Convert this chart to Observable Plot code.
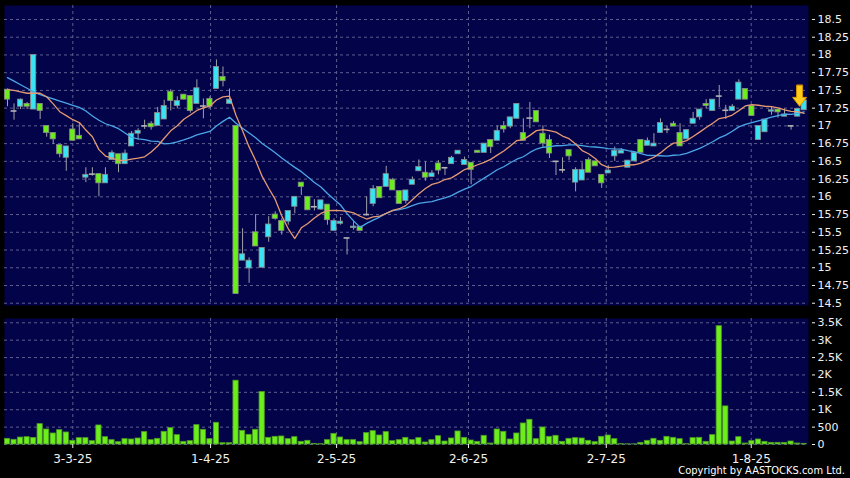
<!DOCTYPE html>
<html><head><meta charset="utf-8">
<script src="https://cdn.jsdelivr.net/npm/d3@7"></script>
<script src="https://cdn.jsdelivr.net/npm/@observablehq/plot@0.6"></script>
<style>
html,body{margin:0;padding:0;background:#000;}
#wrap{position:relative;width:850px;height:478px;background:#000;overflow:hidden;font-family:"DejaVu Sans",sans-serif;}
#price{position:absolute;left:0;top:0;}
#vol{position:absolute;left:0;top:310px;}
#copy{position:absolute;right:5px;top:464px;color:#fff;font-size:11px;font-family:"DejaVu Sans Condensed","DejaVu Sans",sans-serif;font-stretch:condensed;line-height:13px;white-space:nowrap;}
</style></head>
<body><div id="wrap"><div id="price"></div><div id="vol"></div><div id="copy">Copyright by AASTOCKS.com Ltd.</div></div>
<script>
// Daily candles (index = trading day, Feb 17 2025 ... Aug 13 2025)
const opens = [17.51,17.21,17.27,17.31,17.23,17.31,17.0,16.90,16.73,16.55,
16.95,16.86,16.27,16.32,16.32,16.19,16.52,16.60,16.46,16.71,
16.89,17.0,17.03,17.0,17.09,17.48,17.28,17.44,17.42,17.31,
17.28,17.38,17.52,17.69,17.31,17.0,15.10,14.99,15.50,15.0,
15.43,15.75,15.66,15.65,15.86,16.20,16.0,15.86,15.82,15.89,
15.52,15.62,15.42,15.56,15.58,15.75,15.90,16.14,16.14,16.24,
16.08,15.94,16.17,16.36,16.34,16.28,16.47,16.41,16.46,16.60,
16.45,16.48,16.65,16.62,16.80,16.79,17.0,16.99,17.10,16.90,
17.11,17.21,16.89,16.80,16.50,16.38,16.66,16.20,16.23,16.52,
16.50,16.31,16.33,16.57,16.61,16.41,16.50,16.80,16.72,16.71,
16.90,16.95,17.03,16.90,16.81,17.03,17.12,17.31,17.21,17.42,
17.22,17.21,17.37,17.52,17.28,16.80,16.91,17.20,17.23,17.13,
17.0,17.13,17.22];
const closes = [17.37,17.21,17.37,17.27,18.0,17.21,16.90,16.81,16.60,16.71,
16.79,16.81,16.31,16.32,16.19,16.31,16.62,16.46,16.61,16.89,
16.93,17.0,16.98,17.18,17.28,17.35,17.35,17.37,17.21,17.53,
17.28,17.27,17.83,17.63,17.37,14.63,15.19,15.10,15.30,15.28,
15.61,15.69,15.52,15.80,16.0,16.14,15.81,15.86,15.95,15.67,
15.66,15.65,15.42,15.58,15.52,15.75,16.11,15.98,16.32,16.09,
15.90,16.09,16.24,16.42,16.27,16.33,16.37,16.41,16.55,16.65,
16.52,16.38,16.62,16.75,16.70,16.93,16.95,17.12,17.31,16.79,
17.11,17.05,16.75,16.61,16.50,16.38,16.57,16.38,16.38,16.34,
16.43,16.19,16.37,16.65,16.65,16.51,16.62,16.62,16.79,16.75,
17.04,16.95,16.99,16.71,16.94,17.10,17.23,17.28,17.37,17.42,
17.22,17.27,17.61,17.37,17.14,17.0,17.09,17.22,17.19,17.16,
17.0,17.24,17.36];
const highs = [17.52,17.31,17.38,17.33,18.0,17.31,17.0,16.90,16.73,16.71,
17.03,17.03,16.41,16.41,16.32,16.41,16.65,16.60,16.66,16.92,
16.96,17.08,17.06,17.26,17.36,17.51,17.41,17.44,17.42,17.65,
17.38,17.41,17.93,17.83,17.52,17.0,15.55,15.14,15.75,15.28,
15.72,15.79,15.69,15.80,16.0,16.20,16.0,15.96,15.95,15.89,
15.69,15.71,15.42,15.65,15.58,16.0,16.16,16.14,16.43,16.26,
16.08,16.09,16.28,16.52,16.49,16.37,16.51,16.41,16.57,16.65,
16.56,16.48,16.65,16.75,16.80,17.0,17.06,17.12,17.31,17.10,
17.33,17.21,17.0,16.87,16.50,16.55,16.66,16.41,16.48,16.55,
16.50,16.31,16.44,16.70,16.68,16.51,16.62,16.80,16.83,16.89,
17.10,17.0,17.06,17.03,16.94,17.19,17.23,17.37,17.37,17.57,
17.29,17.30,17.65,17.52,17.28,17.0,17.09,17.26,17.23,17.24,
17.0,17.24,17.36];
const lows = [17.27,17.08,17.23,17.23,17.23,17.09,16.84,16.74,16.55,16.36,
16.78,16.81,16.20,16.29,16.0,16.19,16.52,16.34,16.46,16.71,
16.80,16.95,16.94,17.0,17.09,17.21,17.24,17.37,17.18,17.31,
17.10,17.24,17.52,17.55,17.31,14.63,15.10,14.78,15.30,15.0,
15.36,15.67,15.46,15.60,15.76,16.02,15.81,15.80,15.81,15.60,
15.52,15.60,15.18,15.53,15.52,15.73,15.86,15.98,16.14,16.09,
15.90,15.90,16.17,16.36,16.22,16.28,16.31,16.30,16.46,16.60,
16.45,16.17,16.62,16.62,16.61,16.79,16.90,16.96,17.10,16.79,
16.96,17.05,16.70,16.54,16.30,16.33,16.51,16.07,16.23,16.34,
16.43,16.12,16.33,16.50,16.61,16.41,16.50,16.62,16.72,16.71,
16.90,16.89,16.99,16.71,16.81,17.03,17.08,17.24,17.21,17.26,
17.09,17.21,17.37,17.37,17.14,16.80,16.91,17.15,17.11,17.13,
16.94,17.13,17.22];
const volumes = [163,135,200,210,190,586,432,317,413,346,
106,183,183,96,548,211,125,67,154,144,
173,356,125,163,365,471,269,77,96,557,
423,154,625,38,38,1835,394,279,423,1509,
192,221,231,154,211,77,106,19,10,125,
307,202,125,125,67,327,384,259,356,96,
125,192,125,183,58,125,240,86,173,375,
192,115,77,250,29,432,365,144,317,605,
711,154,490,221,250,77,163,183,173,106,
67,221,259,154,10,5,5,48,106,163,
106,221,192,154,10,183,192,77,269,3402,
1096,86,211,29,96,144,77,48,48,48,
86,29,19];
const ma10Lead = [17.51,17.50,17.48,17.46,17.46,17.46,17.41,17.31,17.20];
const ma20Lead = [17.68,17.63,17.58,17.53,17.48,17.44,17.41,17.38,17.35,17.32,
17.29,17.26,17.21,17.14,17.08,17.03,17.0,16.96,16.90];
// Axis ticks
const priceTicks = d3.range(14.5, 18.51, 0.25).map(v => +v.toFixed(2));
const volTicks = [0,500,1000,1500,2000,2500,3000,3500];
const dateLabels = ["3-3-25","1-4-25","2-5-25","2-6-25","2-7-25","1-8-25"];
const dateTickPos = [10, 31.1, 50.4, 70.6, 91.7, 113.9];
const arrowIndex = 121;

const idx = d3.range(closes.length);
function sma(k, lead) {
  return idx.map(i => i < k - 1 ? lead[i] : d3.mean(closes.slice(i - k + 1, i + 1)));
}
const ma10 = sma(10, ma10Lead);
const ma20 = sma(20, ma20Lead);

const NAVY = "#03034a", GRID = "#5e5e90", CYAN = "#38e4f4", GREEN = "#6ced1c";
const xDomain = [-0.46, 122.67];
const common = {width: 850, marginLeft: 4, marginRight: 42,
  style: {background: "transparent", color: "#f0f0f0", fontFamily: "DejaVu Sans, sans-serif", fontSize: "11px"}};

const isDoji = i => opens[i] === closes[i];
const tip = highs[arrowIndex] + 0.035;
const arrowShape = {draw(ctx, l) {
  ctx.moveTo(-3, 0); ctx.lineTo(-3, -l + 9); ctx.lineTo(-7, -l + 9); ctx.lineTo(0, -l);
  ctx.lineTo(7, -l + 9); ctx.lineTo(3, -l + 9); ctx.lineTo(3, 0); ctx.closePath();
}};

const price = Plot.plot({
  ...common, height: 310, marginTop: 5, marginBottom: 5,
  x: {domain: xDomain, axis: null},
  y: {domain: [14.468, 18.697]},
  marks: [
    Plot.frame({fill: NAVY, stroke: null}),
    Plot.gridY(priceTicks, {stroke: GRID, strokeOpacity: 1, strokeDasharray: "3,3"}),
    Plot.gridX(dateTickPos, {stroke: GRID, strokeOpacity: 1, strokeDasharray: "3,3"}),
    Plot.ruleX(idx, {x: i => i, y1: i => lows[i], y2: i => highs[i], stroke: "#a0a0a8", strokeWidth: 1}),
    Plot.rect(idx.filter(i => !isDoji(i)), {x1: i => i - 0.4, x2: i => i + 0.4,
      y1: i => opens[i], y2: i => closes[i],
      fill: i => closes[i] > opens[i] ? CYAN : GREEN, stroke: "#8a8a8a", strokeWidth: 0.8}),
    Plot.ruleY(idx.filter(isDoji), {x1: i => i - 0.45, x2: i => i + 0.45, y: i => closes[i], stroke: "#b4b4b4", strokeWidth: 1.6}),
    Plot.line(idx, {x: i => i, y: i => ma20[i], stroke: "#4aa6e6", strokeWidth: 1.3}),
    Plot.line(idx, {x: i => i, y: i => ma10[i], stroke: "#e49a72", strokeWidth: 1.3}),
    Plot.vector([arrowIndex], {x: i => i, y: () => tip, dx: 2, length: 21, rotate: 180, anchor: "end",
      shape: arrowShape, fill: "#ffcc1a", stroke: "#d89400", strokeWidth: 1}),
    Plot.axisY(priceTicks, {anchor: "right", tickSize: 3, tickPadding: 3, dx: 3, tickFormat: d => String(d), fontSize: 11})
  ]
});
document.getElementById("price").append(price);

const vol = Plot.plot({
  ...common, height: 168, marginTop: 8, marginBottom: 34,
  x: {domain: xDomain},
  y: {domain: [0, 3623]},
  marks: [
    Plot.frame({fill: NAVY, stroke: null}),
    Plot.gridY(volTicks, {stroke: GRID, strokeOpacity: 1, strokeDasharray: "3,3"}),
    Plot.gridX(dateTickPos, {stroke: GRID, strokeOpacity: 1, strokeDasharray: "3,3"}),
    Plot.rect(idx, {x1: i => i - 0.4, x2: i => i + 0.4, y1: 0, y2: i => volumes[i],
      fill: GREEN, stroke: "#4f9a22", strokeWidth: 0.8}),
    Plot.axisY(volTicks, {anchor: "right", tickSize: 3, tickPadding: 3, dx: 3,
      tickFormat: d => d === 0 ? "0" : d < 1000 ? String(d) : (d / 1000) + "K", fontSize: 11}),
    Plot.axisX(dateTickPos, {anchor: "bottom", tickSize: 4, tickPadding: 5.5,
      tickFormat: d => dateLabels[dateTickPos.indexOf(d)], fontSize: 12})
  ]
});
document.getElementById("vol").append(vol);
</script>
</body></html>
